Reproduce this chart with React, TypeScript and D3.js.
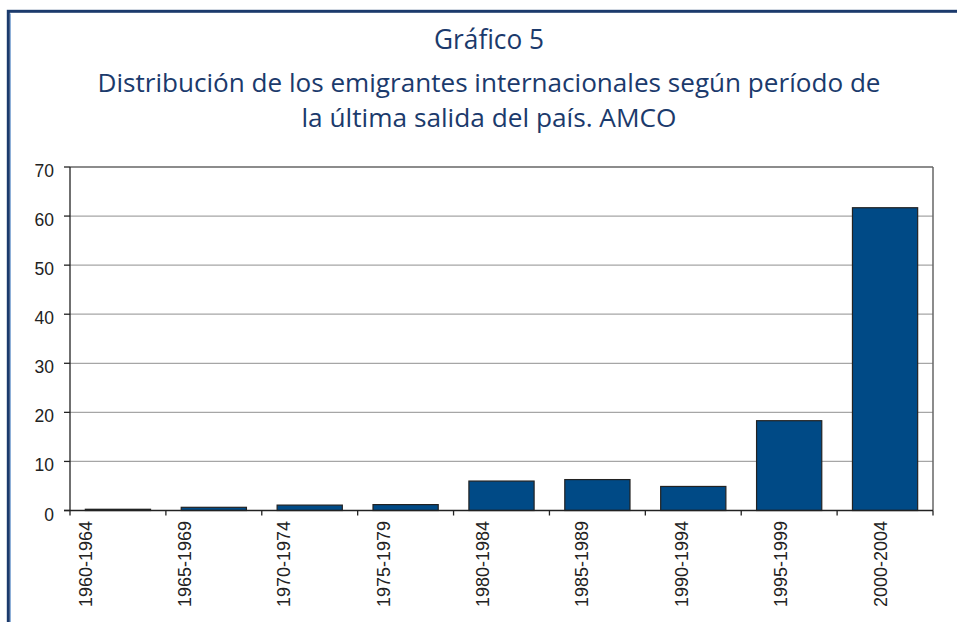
import React from "react";
import * as d3 from "d3";

const categories = [
  "1960-1964",
  "1965-1969",
  "1970-1974",
  "1975-1979",
  "1980-1984",
  "1985-1989",
  "1990-1994",
  "1995-1999",
  "2000-2004",
];
const values = [0.25, 0.65, 1.1, 1.2, 6.0, 6.3, 4.9, 18.3, 61.7];
const yTicks = [0, 10, 20, 30, 40, 50, 60, 70];
const titleLines = [
  "Gráfico 5",
  "Distribución de los emigrantes internacionales según período de",
  "la última salida del país. AMCO",
];

const W = 957;
const H = 622;
const plotLeft = 70;
const plotRight = 933;
const plotTop = 167;
const plotBottom = 510.5;

const navy = "#1b3a6c";
const barFill = "#004a86";

export default function App() {
  const x = d3
    .scaleBand<string>()
    .domain(categories)
    .range([plotLeft, plotRight])
    .paddingInner(0.32)
    .paddingOuter(0.16);
  const y = d3.scaleLinear().domain([0, 70]).range([plotBottom, plotTop]);
  const labelX = d3.scalePoint<string>().domain(categories).range([85, 880]);
  const step = x.step();
  const boundaries = d3.range(categories.length + 1).map((i) => plotLeft + i * step);

  const titleY = [49.3, 91.7, 126.7];
  const titleLen = [110, 783, 375];

  return (
    <svg
      width={W}
      height={H}
      style={{ position: "absolute", left: 0, top: 0, background: "#fff" }}
      fontFamily="Liberation Sans, Arial, sans-serif"
    >
      {/* frame */}
      <rect x={8.3} y={11.3} width={W + 20} height={H + 20} fill="none" stroke={navy} strokeWidth={3} />
      <line x1={10.5} y1={13.5} x2={10.5} y2={H} stroke="#8fb0d8" strokeWidth={1} />

      {/* title */}
      {titleLines.map((t, i) => (
        <text
          key={i}
          x={489}
          y={titleY[i]}
          textAnchor="middle"
          fontFamily="Open Sans, Noto Sans, sans-serif"
          fontSize={i === 0 ? 27 : 25.5}
          fill={navy}
          textLength={titleLen[i]}
          lengthAdjust="spacingAndGlyphs"
        >
          {t}
        </text>
      ))}

      {/* gridlines */}
      {yTicks
        .filter((t) => t > 0 && t < 70)
        .map((t) => (
          <line key={t} x1={plotLeft} x2={plotRight} y1={y(t)} y2={y(t)} stroke="#a6a6a6" strokeWidth={1.3} />
        ))}
      <line x1={plotLeft} x2={plotRight} y1={y(70)} y2={y(70)} stroke="#666" strokeWidth={1.5} />
      <line x1={plotRight} x2={plotRight} y1={y(70)} y2={y(0)} stroke="#666" strokeWidth={1.5} />

      {/* bars */}
      {categories.map((c, i) => (
        <rect
          key={c}
          x={x(c)}
          y={y(values[i])}
          width={x.bandwidth()}
          height={y(0) - y(values[i])}
          fill={barFill}
          stroke="#222"
          strokeWidth={1.2}
        />
      ))}

      {/* y axis */}
      <line x1={plotLeft} x2={plotLeft} y1={y(70)} y2={y(0)} stroke="#222" strokeWidth={1.3} />
      {yTicks.map((t) => (
        <g key={t}>
          <line x1={plotLeft - 6} x2={plotLeft} y1={y(t)} y2={y(t)} stroke="#222" strokeWidth={1.3} />
          <text x={54} y={y(t) + 10} textAnchor="end" fontSize={17.5} fill="#222">
            {t}
          </text>
        </g>
      ))}

      {/* x axis */}
      <line x1={plotLeft - 6} x2={plotRight} y1={y(0)} y2={y(0)} stroke="#222" strokeWidth={1.5} />
      {boundaries.map((b, i) => (
        <line key={i} x1={b} x2={b} y1={y(0)} y2={y(0) + 5} stroke="#222" strokeWidth={1.3} />
      ))}
      {categories.map((c) => (
        <text
          key={c}
          transform={`translate(${labelX(c)! + 6.5},521) rotate(-90)`}
          textAnchor="end"
          fontSize={18}
          fill="#222"
        >
          {c}
        </text>
      ))}
    </svg>
  );
}
